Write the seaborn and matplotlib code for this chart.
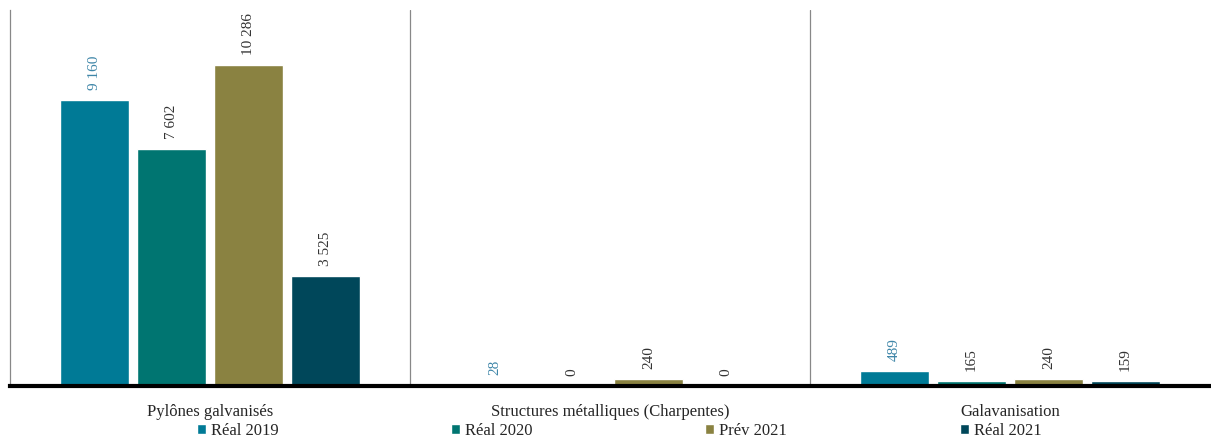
import seaborn as sns
import matplotlib.pyplot as plt
import pandas as pd

categories = ["Pylônes galvanisés", "Structures métalliques (Charpentes)", "Galavanisation"]
series = ["Réal 2019", "Réal 2020", "Prév 2021", "Réal 2021"]
reel_2019 = [9160, 28, 489]
reel_2020 = [7602, 0, 165]
prev_2021 = [10286, 240, 240]
reel_2021 = [3525, 0, 159]
colors = ["#007a96", "#007571", "#8a8241", "#00475a"]

rows = []
for name, vals in zip(series, [reel_2019, reel_2020, prev_2021, reel_2021]):
    for cat, v in zip(categories, vals):
        rows.append({"cat": cat, "serie": name, "val": v})
df = pd.DataFrame(rows)

sns.set_style("white")
plt.rcParams['font.family'] = ['Liberation Serif', 'DejaVu Serif']

fig = plt.figure(figsize=(12.11, 4.38), dpi=100)
ax = fig.add_axes([10 / 1211, 52 / 438, 1200 / 1211, 376 / 438])

sns.barplot(data=df, x="cat", y="val", hue="serie", palette=colors,
            width=0.77, gap=0.1, ax=ax, legend=True, saturation=1)

# étiquettes de valeurs verticales
for i, cont in enumerate(ax.containers):
    labels = [f"{v:,.0f}".replace(",", " ") for v in cont.datavalues]
    col = "#3f86a8" if i == 0 else "#333333"
    ax.bar_label(cont, labels=labels, rotation=90, padding=7, fontsize=11, color=col)

ax.set_xlim(-0.5, 2.5)
ax.set_ylim(0, 12050)
ax.set_yticks([])
ax.set_xlabel("")
ax.set_ylabel("")
ax.tick_params(axis="x", length=0, labelsize=12, pad=13)

for x in [0.5, 1.5]:
    ax.axvline(x, color="#888888", lw=0.9)

for s in ["top", "right"]:
    ax.spines[s].set_visible(False)
ax.spines["left"].set_color("#888888")
ax.spines["left"].set_linewidth(0.9)
ax.spines["bottom"].set_color("black")
ax.spines["bottom"].set_linewidth(3)

ax.legend(loc="upper left", bbox_to_anchor=(0.15, -0.13, 0.715, 0.05), mode="expand",
          ncol=4, frameon=False, fontsize=12, handlelength=0.55, handleheight=0.55,
          handletextpad=0.3, borderaxespad=0, columnspacing=0)

fig.savefig("out.png", dpi=100)
